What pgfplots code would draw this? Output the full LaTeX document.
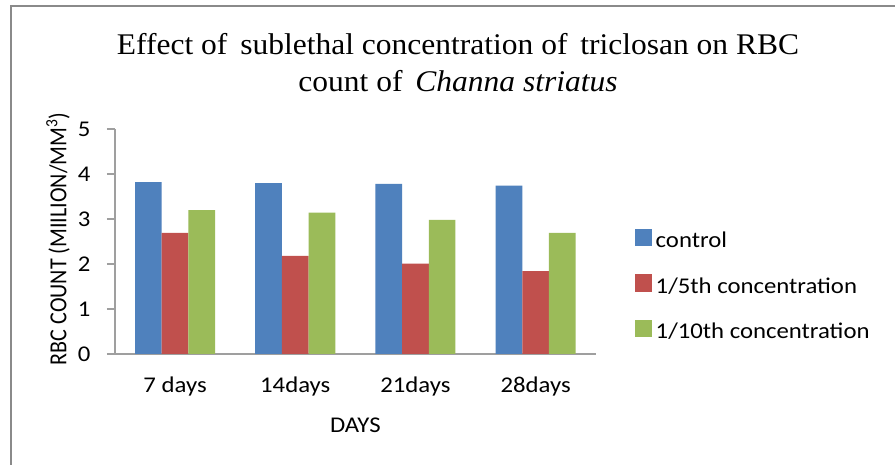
\documentclass[border=0pt]{standalone}
\usepackage{pgfplots}
\pgfplotsset{compat=1.18}
\usepackage{fontspec}
\setmainfont{Carlito}[FakeStretch=1.1]
\newfontfamily\plainfont{Carlito}[FakeStretch=0.9]
\newfontfamily\titlefont{Liberation Serif}[FakeStretch=1.05]
\definecolor{cblue}{HTML}{4F81BD}
\definecolor{cred}{HTML}{C0504D}
\definecolor{cgreen}{HTML}{9BBB59}
\definecolor{axgray}{HTML}{9F9F9F}
\definecolor{framegray}{HTML}{8A8A8A}
\begin{document}
\begin{tikzpicture}
\useasboundingbox (0,0) rectangle (895bp,465bp);
\fill[white] (0,0) rectangle (895bp,465bp);
\draw[framegray, line width=2bp] (11bp,0) -- (11bp,459bp) -- (895bp,459bp);
\node[font=\titlefont\fontsize{30bp}{35bp}\selectfont, anchor=base] at (458bp,410bp) {Effect of\, sublethal concentration of\, triclosan on RBC};
\node[font=\titlefont\fontsize{30bp}{35bp}\selectfont, anchor=base] at (458bp,373bp) {count of\, \textit{Channa striatus}};
\node[rotate=90, anchor=center, font=\plainfont\fontsize{24.5bp}{28bp}\selectfont] at (58bp,226bp) {RBC COUNT (MIILION/MM\textsuperscript{3})};
\begin{axis}[
  at={(115bp,111bp)}, anchor=south west,
  scale only axis, width=480.7bp, height=225bp,
  xmin=-0.5, xmax=3.5, ymin=0, ymax=5,
  axis lines=left,
  axis line style={axgray, line width=1.3bp, -},
  ybar=0pt, bar width=26.7bp,
  xtick={0,1,2,3},
  xticklabels={7 days,14days,21days,28days},
  ytick={0,1,2,3,4,5},
  major x tick style={draw=none},
  major y tick style={axgray, line width=1.3bp},
  tick align=outside, major tick length=8bp,
  /pgf/number format/assume math mode=true,
  tick label style={font=\fontsize{22.5bp}{26bp}\selectfont, black},
  xticklabel style={yshift=-11bp},
  yticklabel style={xshift=-13bp},
  every axis x label/.style={at={(rel axis cs:0.5,0)}, yshift=-71bp, anchor=center, font=\fontsize{22.5bp}{26bp}\selectfont},
  xlabel={DAYS},
  legend style={at={(rel axis cs:1.0818,0.300)}, anchor=west, draw=none, fill=none,
    font=\fontsize{22.5bp}{26bp}\selectfont, inner sep=0pt, row sep=21.5bp,
    nodes={inner sep=1.5bp, text height=15bp, text depth=4bp}},
  legend cell align=left,
  legend image code/.code={\fill[#1] (0bp,-4bp) rectangle (17bp,13bp);},
]
\addplot[fill=cblue, draw=none] coordinates {(0,3.82) (1,3.80) (2,3.78) (3,3.74)};
\addplot[fill=cred, draw=none] coordinates {(0,2.69) (1,2.18) (2,2.01) (3,1.84)};
\addplot[fill=cgreen, draw=none] coordinates {(0,3.20) (1,3.14) (2,2.98) (3,2.69)};
\legend{\kern2bp control,\kern2bp 1/5th concentration,\kern2bp 1/10th concentration}
\end{axis}
\end{tikzpicture}
\end{document}
